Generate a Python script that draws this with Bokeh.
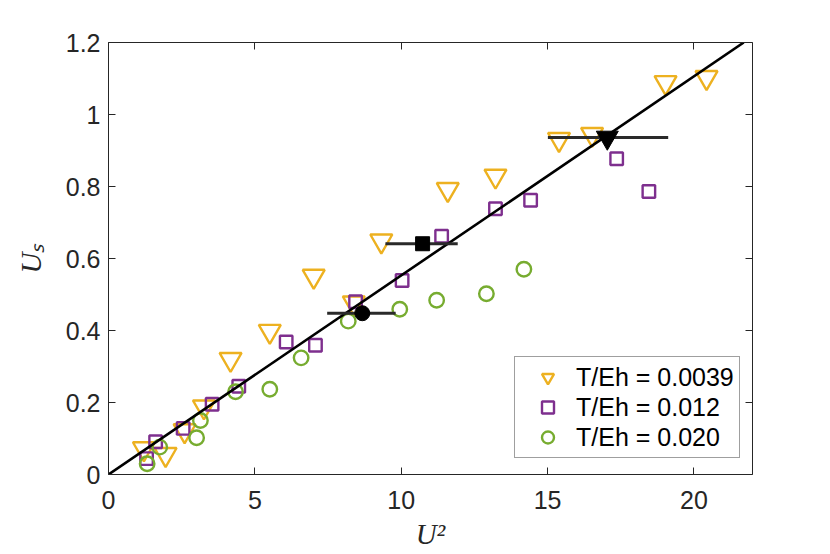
from bokeh.plotting import figure
from bokeh.models import (LinearAxis, Legend, LegendItem, CustomJSTickFormatter,
                          FixedTicker, Range1d)
from bokeh.embed import file_html
from bokeh.resources import INLINE

# ---- data ----
tri_x = [1.21, 1.95, 2.60, 3.26, 4.17, 5.51, 7.01, 8.38, 9.32, 11.59, 13.22, 15.39, 16.52, 19.03, 20.43]
tri_y = [0.072, 0.056, 0.122, 0.188, 0.320, 0.398, 0.551, 0.477, 0.649, 0.792, 0.829, 0.931, 0.945, 1.089, 1.103]
sq_x = [1.30, 1.61, 2.55, 3.54, 4.45, 6.07, 7.07, 8.44, 10.03, 11.38, 13.22, 14.42, 17.36, 18.46]
sq_y = [0.044, 0.091, 0.128, 0.195, 0.245, 0.368, 0.359, 0.480, 0.539, 0.662, 0.738, 0.762, 0.877, 0.786]
ci_x = [1.32, 1.75, 3.01, 3.14, 4.34, 5.51, 6.58, 8.19, 9.95, 11.21, 12.91, 14.19]
ci_y = [0.030, 0.076, 0.102, 0.150, 0.230, 0.237, 0.324, 0.426, 0.459, 0.484, 0.502, 0.570]

mean_x = [17.04, 10.73, 8.67]
mean_y = [0.936, 0.641, 0.448]
mean_lo = [15.01, 9.46, 7.47]
mean_hi = [19.12, 11.93, 9.81]

fit_x = [0.0, 21.7]
fit_y = [0.0, 1.2]

series_labels = ["T/Eh = 0.0039", "T/Eh = 0.012", "T/Eh = 0.020"]
x_ticks = [0, 5, 10, 15, 20]
x_tick_labels = ["0", "5", "10", "15", "20"]
y_ticks = [0, 0.2, 0.4, 0.6, 0.8, 1.0, 1.2]
y_tick_labels = ["0", "0.2", "0.4", "0.6", "0.8", "1", "1.2"]

ORANGE = "#EDB120"
PURPLE = "#7E2F8E"
GREEN = "#77AC30"
AX = "#262626"

p = figure(frame_width=644, frame_height=432,
           x_range=Range1d(0, 22), y_range=Range1d(0, 1.2),
           output_backend="svg", toolbar_location=None,
           min_border_left=108, min_border_top=42,
           min_border_right=60, min_border_bottom=70,
           background_fill_color="white", border_fill_color="white",
           outline_line_color=None)
p.xgrid.visible = False
p.ygrid.visible = False

fmt_code = ("const i = tv.findIndex(t => Math.abs(t - tick) < 1e-9);"
            "return i >= 0 ? tl[i] : '';")
blank_code = "return '';"

def style_axis(ax, ticks, labels, show_labels=True):
    ax.ticker = FixedTicker(ticks=ticks)
    if show_labels:
        ax.formatter = CustomJSTickFormatter(args=dict(tv=ticks, tl=labels), code=fmt_code)
    else:
        ax.formatter = CustomJSTickFormatter(code=blank_code)
        ax.major_label_standoff = 0
    ax.axis_line_color = AX
    ax.axis_line_width = 1
    ax.major_tick_line_color = AX
    ax.major_tick_line_width = 1
    ax.major_tick_in = 7
    ax.major_tick_out = 0
    ax.minor_tick_line_color = None
    ax.major_label_text_font = "Liberation Sans"
    ax.major_label_text_font_size = "25px" if show_labels else "0px"
    ax.major_label_text_color = AX

xa = p.xaxis[0]
ya = p.yaxis[0]
style_axis(xa, x_ticks, x_tick_labels)
style_axis(ya, y_ticks, y_tick_labels)
xa.major_label_standoff = 16
ya.major_label_standoff = 8

xa.axis_label = "U²"
ya.axis_label = "Uₛ"
for ax in (xa, ya):
    ax.axis_label_text_font = "Liberation Serif"
    ax.axis_label_text_font_style = "italic"
    ax.axis_label_text_font_size = "29px"
    ax.axis_label_text_color = AX
xa.axis_label_standoff = 6
ya.axis_label_standoff = 16

top = LinearAxis()
right = LinearAxis()
style_axis(top, x_ticks, x_tick_labels, show_labels=False)
style_axis(right, y_ticks, y_tick_labels, show_labels=False)
p.add_layout(top, "above")
p.add_layout(right, "right")

r_tri = p.scatter(tri_x, tri_y, marker="inverted_triangle", size=22,
                  fill_color=None, line_color=ORANGE, line_width=2.4)
r_sq = p.scatter(sq_x, sq_y, marker="square", size=12.5,
                 fill_color=None, line_color=PURPLE, line_width=2.4)
r_ci = p.scatter(ci_x, ci_y, marker="circle", size=14.5,
                 fill_color=None, line_color=GREEN, line_width=2.4)

p.line(fit_x, fit_y, line_color="black", line_width=2.6)

p.segment(x0=mean_lo, y0=mean_y, x1=mean_hi, y1=mean_y,
          line_color="#2a2a2a", line_width=3)
p.scatter(mean_x[0:1], mean_y[0:1], marker="inverted_triangle", size=22,
          fill_color="black", line_color="black")
p.scatter(mean_x[1:2], mean_y[1:2], marker="square", size=14,
          fill_color="black", line_color="black")
p.scatter(mean_x[2:3], mean_y[2:3], marker="circle", size=15,
          fill_color="black", line_color="black")

legend = Legend(items=[LegendItem(label=series_labels[0], renderers=[r_tri]),
                       LegendItem(label=series_labels[1], renderers=[r_sq]),
                       LegendItem(label=series_labels[2], renderers=[r_ci])],
                location=(406, 16),
                label_text_font="Liberation Sans",
                label_text_font_size="25px",
                label_text_color="black",
                glyph_width=55, glyph_height=30,
                spacing=0, padding=5, label_standoff=1,
                border_line_color="#404040", border_line_width=1,
                background_fill_color="white", background_fill_alpha=1.0)
p.add_layout(legend)

open("out.html", "w").write(file_html(p, INLINE))
